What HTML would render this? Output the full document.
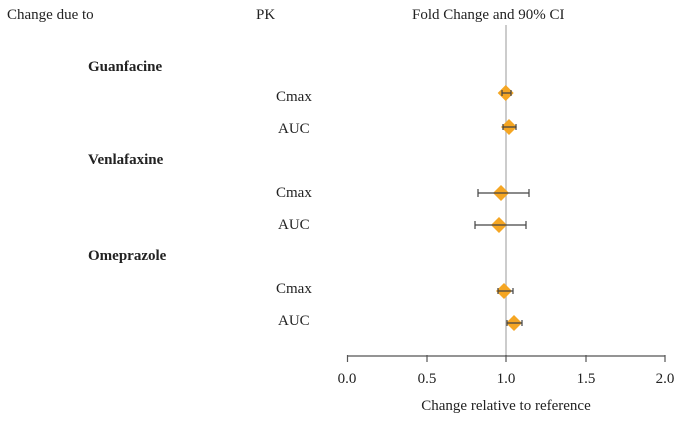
<!DOCTYPE html>
<html><head><meta charset="utf-8"><style>
body{margin:0;background:#fff;}
svg text{font-family:"Liberation Serif",serif;fill:#222;}
</style></head><body>
<svg width="681" height="416" xmlns="http://www.w3.org/2000/svg">
<g font-size="15">
<text x="7" y="19">Change due to</text>
<text x="256" y="19">PK</text>
<text x="412" y="19">Fold Change and 90% CI</text>
<text x="88" y="71" font-weight="bold">Guanfacine</text>
<text x="276" y="101">Cmax</text>
<text x="278" y="133">AUC</text>
<text x="88" y="164" font-weight="bold">Venlafaxine</text>
<text x="276" y="197">Cmax</text>
<text x="278" y="229">AUC</text>
<text x="88" y="260" font-weight="bold">Omeprazole</text>
<text x="276" y="293">Cmax</text>
<text x="278" y="325">AUC</text>
</g>
<line x1="506" y1="25" x2="506" y2="356" stroke="#bbb" stroke-width="1.5"/>
<line x1="347" y1="356" x2="665" y2="356" stroke="#555" stroke-width="1.2"/>
<g stroke="#555" stroke-width="1.2">
<line x1="347.5" y1="355" x2="347.5" y2="362"/><line x1="427" y1="355" x2="427" y2="362"/><line x1="506" y1="355" x2="506" y2="362"/><line x1="586" y1="355" x2="586" y2="362"/><line x1="665" y1="355" x2="665" y2="362"/>
</g>
<g font-size="15" text-anchor="middle">
<text x="347" y="383">0.0</text><text x="427" y="383">0.5</text><text x="506" y="383">1.0</text><text x="586" y="383">1.5</text><text x="665" y="383">2.0</text>
<text x="506" y="410">Change relative to reference</text>
</g>
<g fill="#f5a623">
<polygon points="505.7,85 513.7,93 505.7,101 497.7,93"/>
<polygon points="509,119 517,127 509,135 501,127"/>
<polygon points="501,185 509,193 501,201 493,193"/>
<polygon points="499,217 507,225 499,233 491,225"/>
<polygon points="504,283 512,291 504,299 496,291"/>
<polygon points="514,315 522,323 514,331 506,323"/>
</g>
<g stroke="#444" stroke-width="1.2" fill="none">
<path d="M502 93H511M502 90V96M511 90V96"/>
<path d="M503 127H516M503 124V130M516 124V130"/>
<path d="M478 193H529M478 189V197M529 189V197"/>
<path d="M475 225H526M475 221V229M526 221V229"/>
<path d="M498 291H513M498 288V294M513 288V294"/>
<path d="M507 323H522M507 320V326M522 320V326"/>
</g>
</svg>
</body></html>
